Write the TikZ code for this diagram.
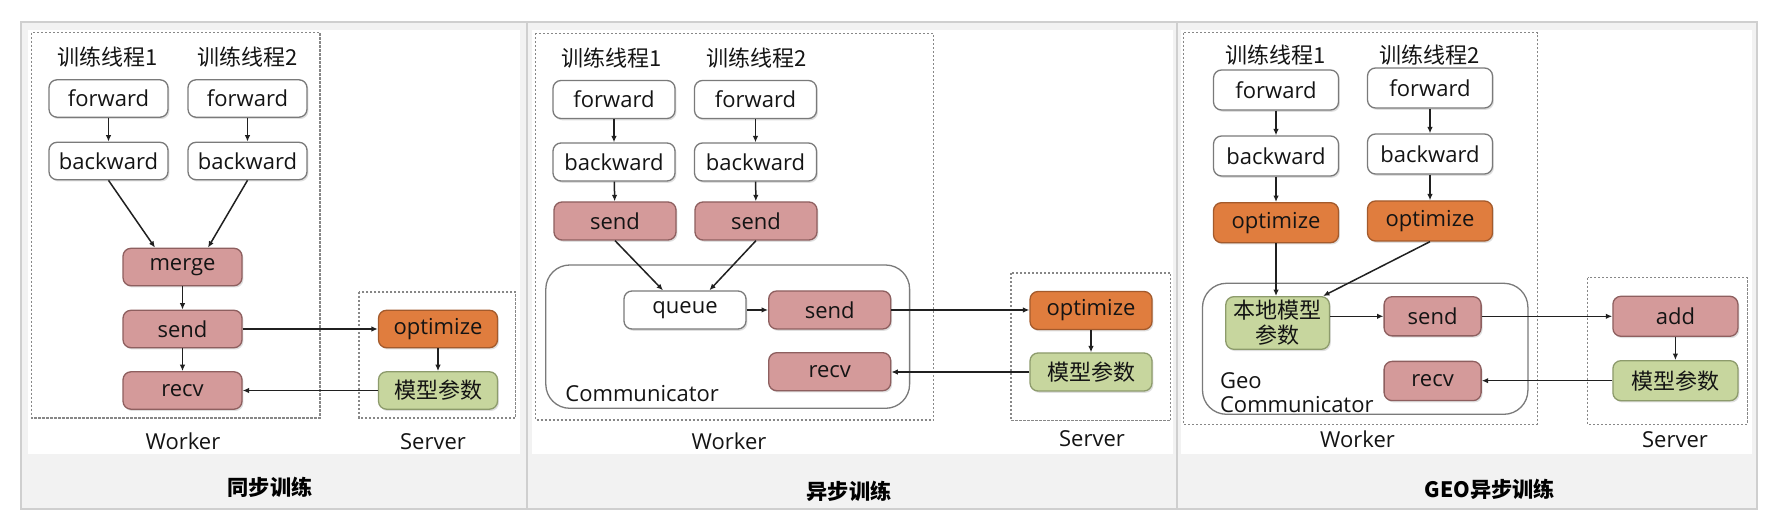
\documentclass[tikz,border=0pt]{standalone}
\usepackage{fontspec}
\setmainfont{Open Sans}
\newfontfamily\cjk{Noto Sans CJK SC}
\usetikzlibrary{arrows.meta,shadows,calc}
\definecolor{redf}{HTML}{D49A9A}
\definecolor{redd}{HTML}{8E5F5F}
\definecolor{orangef}{HTML}{E07D3E}
\definecolor{oranged}{HTML}{A35A2C}
\definecolor{greenf}{HTML}{C7D69E}
\definecolor{greend}{HTML}{8D9B6C}
\definecolor{boxd}{HTML}{7A7A7A}
\definecolor{tabgray}{HTML}{F2F2F2}
\definecolor{tabline}{HTML}{CFCFCF}
\definecolor{txt}{HTML}{141414}
\definecolor{arrc}{HTML}{202020}
\newcommand{\fsz}{\fontsize{11}{13}\selectfont}
\begin{document}
\begin{tikzpicture}[x=0.5pt,y=-0.5pt,
  bx/.style={rounded corners=4pt, line width=0.65pt, inner sep=0pt, font=\fsz, text=txt,
    drop shadow={shadow xshift=0.7pt, shadow yshift=-0.9pt, opacity=0.25}},
  wbox/.style={bx, draw=boxd, fill=white},
  rbox/.style={bx, draw=redd, fill=redf},
  obox/.style={bx, draw=oranged, fill=orangef},
  gbox/.style={bx, draw=greend, fill=greenf},
  pa/.style={minimum width=59.5pt, minimum height=18.7pt},
  pb/.style={minimum width=61pt, minimum height=19pt},
  pc/.style={minimum width=62.5pt, minimum height=20pt},
  pd/.style={minimum width=48.5pt, minimum height=19.6pt},
  lbl/.style={inner sep=0pt, font=\fsz, text=txt},
  captxt/.style={inner sep=0pt, font=\fontsize{10.6}{13}\selectfont\cjk\bfseries, text=black},
  dbox/.style={draw=boxd!90, line width=0.65pt, dash pattern=on 1.1pt off 0.9pt},
  cbox/.style={draw=boxd, line width=0.65pt, rounded corners=12pt},
  arr/.style={draw=arrc, line width=0.75pt, -{Latex[length=3.2pt,width=2.7pt]}}
]
\useasboundingbox (0,0) rectangle (1772,522);
% table background
\fill[tabgray] (20.7,21.7) rectangle (1757,509);
\fill[white] (28,30) rectangle (520,454);
\fill[white] (532,30) rectangle (1173,454);
\fill[white] (1181,30) rectangle (1752,454);
\draw[tabline, line width=0.9pt] (20.7,21.7) rectangle (1757,509);
\draw[tabline, line width=0.7pt] (527,21.7) -- (527,509);
\draw[tabline, line width=0.7pt] (1177,21.7) -- (1177,509);

% ================= Panel 1 =================
\draw[dbox] (31.7,32.7) rectangle (320,418);
\draw[dbox] (359,292) rectangle (515.7,418);
\node[lbl] (t11) at (108,57) {\cjk 训练线程1};
\node[lbl] (t12) at (248,57) {\cjk 训练线程2};
\node[wbox,pa] (f11) at (108.5,98.5) {forward};
\node[wbox,pa] (f12) at (247.5,98.5) {forward};
\node[wbox,pa] (b11) at (108.5,161) {backward};
\node[wbox,pa] (b12) at (247.5,161) {backward};
\node[rbox,pa] (m1) at (182.5,267) {merge};
\node[rbox,pa] (s1) at (182.5,329) {send};
\node[rbox,pa] (r1) at (182.5,390.5) {recv};
\node[obox,pa] (o1) at (438,329) {optimize};
\node[gbox,pa] (p1) at (438,390.5) {\cjk 模型参数};
\node[lbl, anchor=base] (w1) at (183,450) {Worker};
\node[lbl, anchor=base] (sv1) at (433,450) {Server};
\node[captxt] (c1) at (270,487.5) {同步训练};
\draw[arr] (f11) -- (b11);
\draw[arr] (f12) -- (b12);
\draw[arr] (b11.south) -- ([xshift=-13.75pt]m1.north);
\draw[arr] (b12.south) -- ([xshift=12.75pt]m1.north);
\draw[arr] (m1) -- (s1);
\draw[arr] (s1) -- (r1);
\draw[arr] (s1) -- (o1);
\draw[arr] (o1) -- (p1);
\draw[arr] (p1) -- (r1);

% ================= Panel 2 =================
\draw[dbox] (535.2,33.3) rectangle (933.3,420);
\draw[dbox] (1011,273) rectangle (1170.7,420.7);
\draw[cbox] (545.8,265) rectangle (909.6,408.3);
\node[lbl] (t21) at (612,58) {\cjk 训练线程1};
\node[lbl] (t22) at (757,58) {\cjk 训练线程2};
\node[wbox,pb] (f21) at (614,99.5) {forward};
\node[wbox,pb] (f22) at (755.5,99.5) {forward};
\node[wbox,pb] (b21) at (614,162) {backward};
\node[wbox,pb] (b22) at (755.5,162) {backward};
\node[rbox,pb] (s21) at (615,221) {send};
\node[rbox,pb] (s22) at (756,221) {send};
\node[wbox,pb] (q2) at (685,310) {queue};
\node[rbox,pb] (s23) at (829.7,310) {send};
\node[rbox,pb] (r2) at (829.7,371.7) {recv};
\node[lbl, anchor=base west] (cl2) at (565,402) {Communicator};
\node[obox,pb] (o2) at (1091,310.5) {optimize};
\node[gbox,pb] (p2) at (1091,372) {\cjk 模型参数};
\node[lbl, anchor=base] (w2) at (729,450) {Worker};
\node[lbl, anchor=base] (sv2) at (1092,446.7) {Server};
\node[captxt] (c2) at (849,491) {异步训练};
\draw[arr] (f21) -- (b21);
\draw[arr] (f22) -- (b22);
\draw[arr] (b21) -- (s21);
\draw[arr] (b22) -- (s22);
\draw[arr] (s21.south) -- ([xshift=-11pt]q2.north);
\draw[arr] (s22.south) -- ([xshift=12.2pt]q2.north);
\draw[arr] (q2) -- (s23);
\draw[arr] (s23.east) -- (o2.west |- s23.east);
\draw[arr] (o2) -- (p2);
\draw[arr] (p2.west) -- (r2.east |- p2.west);

% ================= Panel 3 =================
\draw[dbox] (1183.8,32.7) rectangle (1537.2,424.3);
\draw[dbox] (1587.6,277.7) rectangle (1747.3,424.3);
\draw[cbox] (1202.5,283.3) rectangle (1527.9,414.3);
\node[lbl] (t31) at (1276,55) {\cjk 训练线程1};
\node[lbl] (t32) at (1430,55) {\cjk 训练线程2};
\node[wbox,pc] (f31) at (1276,90) {forward};
\node[wbox,pc] (f32) at (1430,88) {forward};
\node[wbox,pc] (b31) at (1276,156) {backward};
\node[wbox,pc] (b32) at (1430,154) {backward};
\node[obox,pc] (o31) at (1276,222.7) {optimize};
\node[obox,pc] (o32) at (1430,221) {optimize};
\node[gbox, minimum width=51.8pt, minimum height=26.3pt, align=center,
      font=\fontsize{11}{12.5}\selectfont\cjk] (lp) at (1277.6,323) {本地模型\\参数};
\node[rbox,pd] (s3) at (1432.6,316.3) {send};
\node[rbox,pd] (r3) at (1432.6,381) {recv};
\node[lbl, anchor=north west, align=left, font=\fontsize{11}{12}\selectfont] (cl3) at (1219.7,372) {Geo\\Communicator};
\node[rbox,pc] (a3) at (1675.4,316.3) {add};
\node[gbox,pc] (p3) at (1675.4,380.7) {\cjk 模型参数};
\node[lbl, anchor=base] (w3) at (1357.5,448) {Worker};
\node[lbl, anchor=base] (sv3) at (1675,448) {Server};
\node[captxt] (c3) at (1490,489) {GEO异步训练};
\draw[arr] (f31) -- (b31);
\draw[arr] (f32) -- (b32);
\draw[arr] (b31) -- (o31);
\draw[arr] (b32) -- (o32);
\draw[arr] (o31.south) -- (o31.south |- lp.north);
\draw[arr] (o32.south) -- ([xshift=-3.5pt]lp.north east);
\draw[arr] (lp.east |- s3.west) -- (s3.west);
\draw[arr] (s3) -- (a3);
\draw[arr] (a3) -- (p3);
\draw[arr] (p3.west) -- (r3.east |- p3.west);
\end{tikzpicture}
\end{document}
